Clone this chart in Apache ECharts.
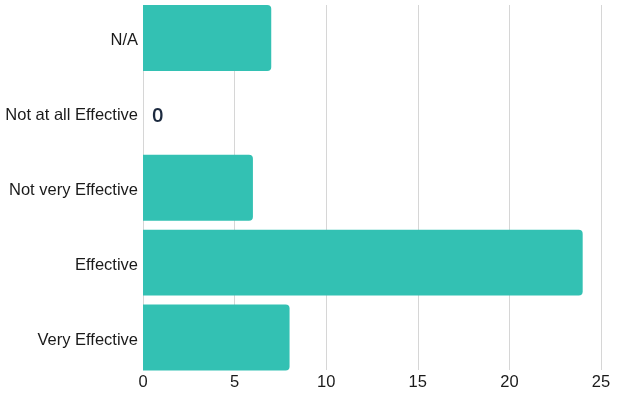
<!DOCTYPE html>
<html>
<head>
<meta charset="utf-8">
<script src="https://cdn.jsdelivr.net/npm/echarts@6/dist/echarts.min.js"></script>
<style>
  html, body { margin: 0; padding: 0; background: #fff; }
  #chart { width: 623px; height: 398px; }
</style>
</head>
<body>
<div id="chart"></div>
<script>
// data, top to bottom as in the picture
const categories = ['N/A', 'Not at all Effective', 'Not very Effective', 'Effective', 'Very Effective'];
const responses = [7, 0, 6, 24, 8];
const xTicks = [0, 5, 10, 15, 20, 25];

const chart = echarts.init(document.getElementById('chart'));

const option = {
  animation: false,
  grid: [
    // gridlines + x labels
    { left: 143, right: 22, top: 5, bottom: 28 },
    // bars + category labels
    { left: 143, right: 22, top: 0.5, bottom: 23 }
  ],
  xAxis: [
    {
      gridIndex: 0,
      type: 'value',
      min: xTicks[0],
      max: xTicks[xTicks.length - 1],
      interval: 5,
      axisLine: { show: false },
      axisTick: { show: false },
      axisLabel: { color: '#1a1a1a', fontSize: 16.5, fontFamily: 'Liberation Sans', margin: 4 },
      splitLine: { show: true, lineStyle: { color: '#d6d6d6', width: 1 } }
    },
    {
      gridIndex: 1,
      type: 'value',
      min: xTicks[0],
      max: xTicks[xTicks.length - 1],
      show: false
    }
  ],
  yAxis: [
    {
      gridIndex: 0,
      type: 'category',
      data: categories,
      show: false
    },
    {
      gridIndex: 1,
      type: 'category',
      data: categories,
      inverse: true,
      axisLine: { show: false },
      axisTick: { show: false },
      axisLabel: {
        margin: 5,
        formatter: v => '{l|' + v + '}',
        rich: {
          l: {
            color: '#1a1a1a', fontSize: 16.5, fontFamily: 'Liberation Sans',
            padding: [5, 0, 0, 0]
          }
        }
      }
    }
  ],
  series: [
    {
      type: 'bar',
      xAxisIndex: 1,
      yAxisIndex: 1,
      data: responses,
      barCategoryGap: '12%',
      itemStyle: { color: '#33c1b3', borderRadius: [0, 4, 4, 0] },
      label: {
        show: true,
        position: 'right',
        distance: 9,
        offset: [0, 3],
        color: '#1c2a3f',
        fontSize: 20,
        fontWeight: 600,
        fontFamily: 'Open Sans',
        formatter: p => (p.value === 0 ? '0' : '')
      }
    }
  ]
};

chart.setOption(option);
</script>
</body>
</html>
